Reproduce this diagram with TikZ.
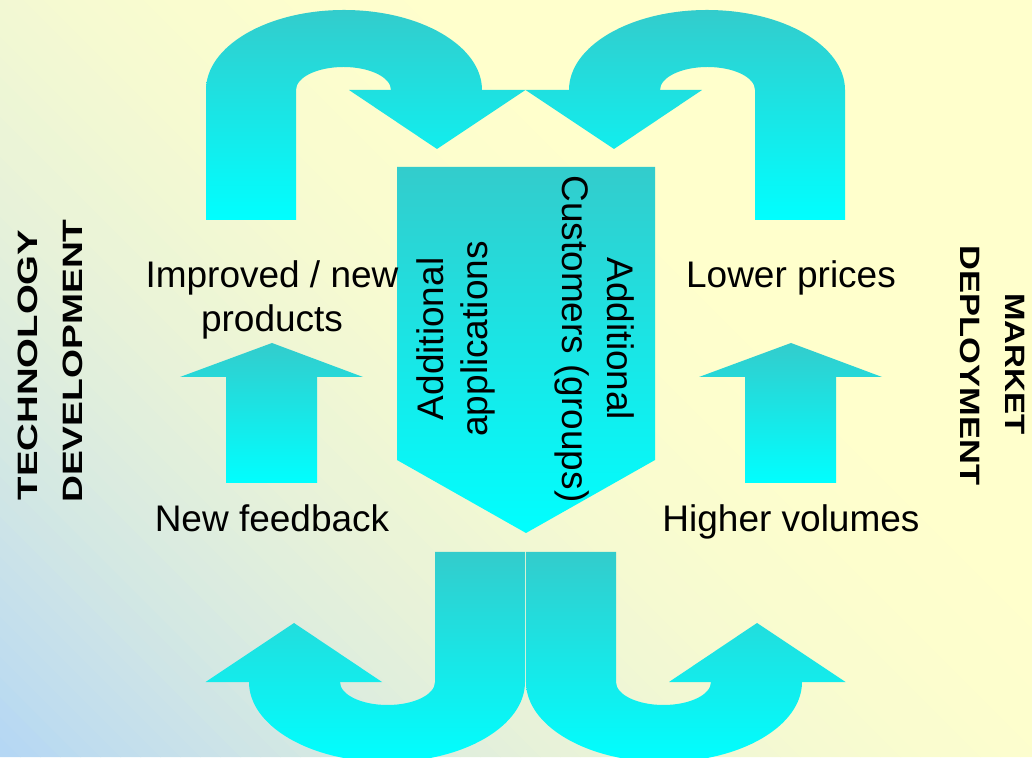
\documentclass[tikz,border=0pt]{standalone}
\usepackage{fontspec}
\setmainfont{Liberation Sans}
\usepackage{graphicx}
\definecolor{bgB}{HTML}{B3D6F5}
\definecolor{bgY}{HTML}{FFFFCC}
\definecolor{tealtop}{HTML}{33CCCC}
\definecolor{cyanbot}{HTML}{00FFFF}
\tikzset{
  arrowfill/.style={top color=tealtop, bottom color=cyanbot, draw=none},
  uturn/.style={insert path={(206,537) -- (206,667) arc[start angle=180,end angle=0,x radius=138,y radius=80] -- (525.5,667) -- (437,608) -- (349,667) -- (391,667) arc[start angle=0,end angle=180,x radius=47.5,y radius=23] -- (296,537) -- cycle}},
  lbl/.style={font=\fontsize{37}{44}\selectfont, inner sep=0pt, anchor=base, text=black},
  side/.style={font=\bfseries\fontsize{28}{32}\selectfont, inner sep=0pt, anchor=base, text=black}
}
\begin{document}
\begin{tikzpicture}[x=1pt,y=1pt]
\useasboundingbox (0,0) rectangle (1032,757);
\begin{scope}
  \clip (0,0) rectangle (1032,757);
  \fill[bgY] (0,0) rectangle (1032,757);
  \foreach \i in {0,...,64}{
    \pgfmathsetmacro{\tval}{max(0,1-(\i*20+10)/1288)}
    \pgfmathtruncatemacro{\pct}{100*\tval*\tval}
    \fill[bgB!\pct!bgY] (\i*20,0) -- (\i*20+21,0) -- (\i*20+21-800,800) -- (\i*20-800,800) -- cycle;
  }
  % U-turn arrows
  \shade[arrowfill, uturn];
  \begin{scope}[shift={(1051,0)}, xscale=-1]
    \shade[arrowfill, uturn];
  \end{scope}
  \begin{scope}[shift={(731,742)}, xscale=-1, yscale=-1]
    \shade[arrowfill, uturn];
  \end{scope}
  \begin{scope}[shift={(320,742)}, yscale=-1]
    \shade[arrowfill, uturn];
  \end{scope}
  % central down arrow
  \shade[arrowfill] (397,590) -- (655,590) -- (655,297) -- (526,224) -- (397,297) -- cycle;
  % small up arrows
  \shade[arrowfill] (226,274) -- (226,380) -- (180,380) -- (272,414) -- (363,380) -- (317,380) -- (317,274) -- cycle;
  \shade[arrowfill] (745,274) -- (745,380) -- (699,380) -- (791,414) -- (882,380) -- (836,380) -- (836,274) -- cycle;
\end{scope}
% labels
\node[lbl] (improved) at (272,469) {Improved / new};
\node[lbl] (products) at (272,425) {products};
\node[lbl] (feedback) at (272,225) {New feedback};
\node[lbl] (lower) at (791,469) {Lower prices};
\node[lbl] (higher) at (791,225) {Higher volumes};
\node[lbl, rotate=90] (addl1) at (443,418) {Additional};
\node[lbl, rotate=90] (appl) at (487,418) {applications};
\node[lbl, rotate=-90] (addl2) at (607,418) {Additional};
\node[lbl, rotate=-90] (cust) at (562,418) {Customers (groups)};
\node[side, rotate=90] (tech) at (37,392) {\scalebox{1.37}[1]{TECHNOLOGY}};
\node[side, rotate=90] (dev) at (82,396) {\scalebox{1.33}[1]{DEVELOPMENT}};
\node[side, rotate=-90] (market) at (1005,393) {\scalebox{1.18}[1]{MARKET}};
\node[side, rotate=-90] (deploy) at (960,391.5) {\scalebox{1.23}[1]{DEPLOYMENT}};
\end{tikzpicture}
\end{document}
